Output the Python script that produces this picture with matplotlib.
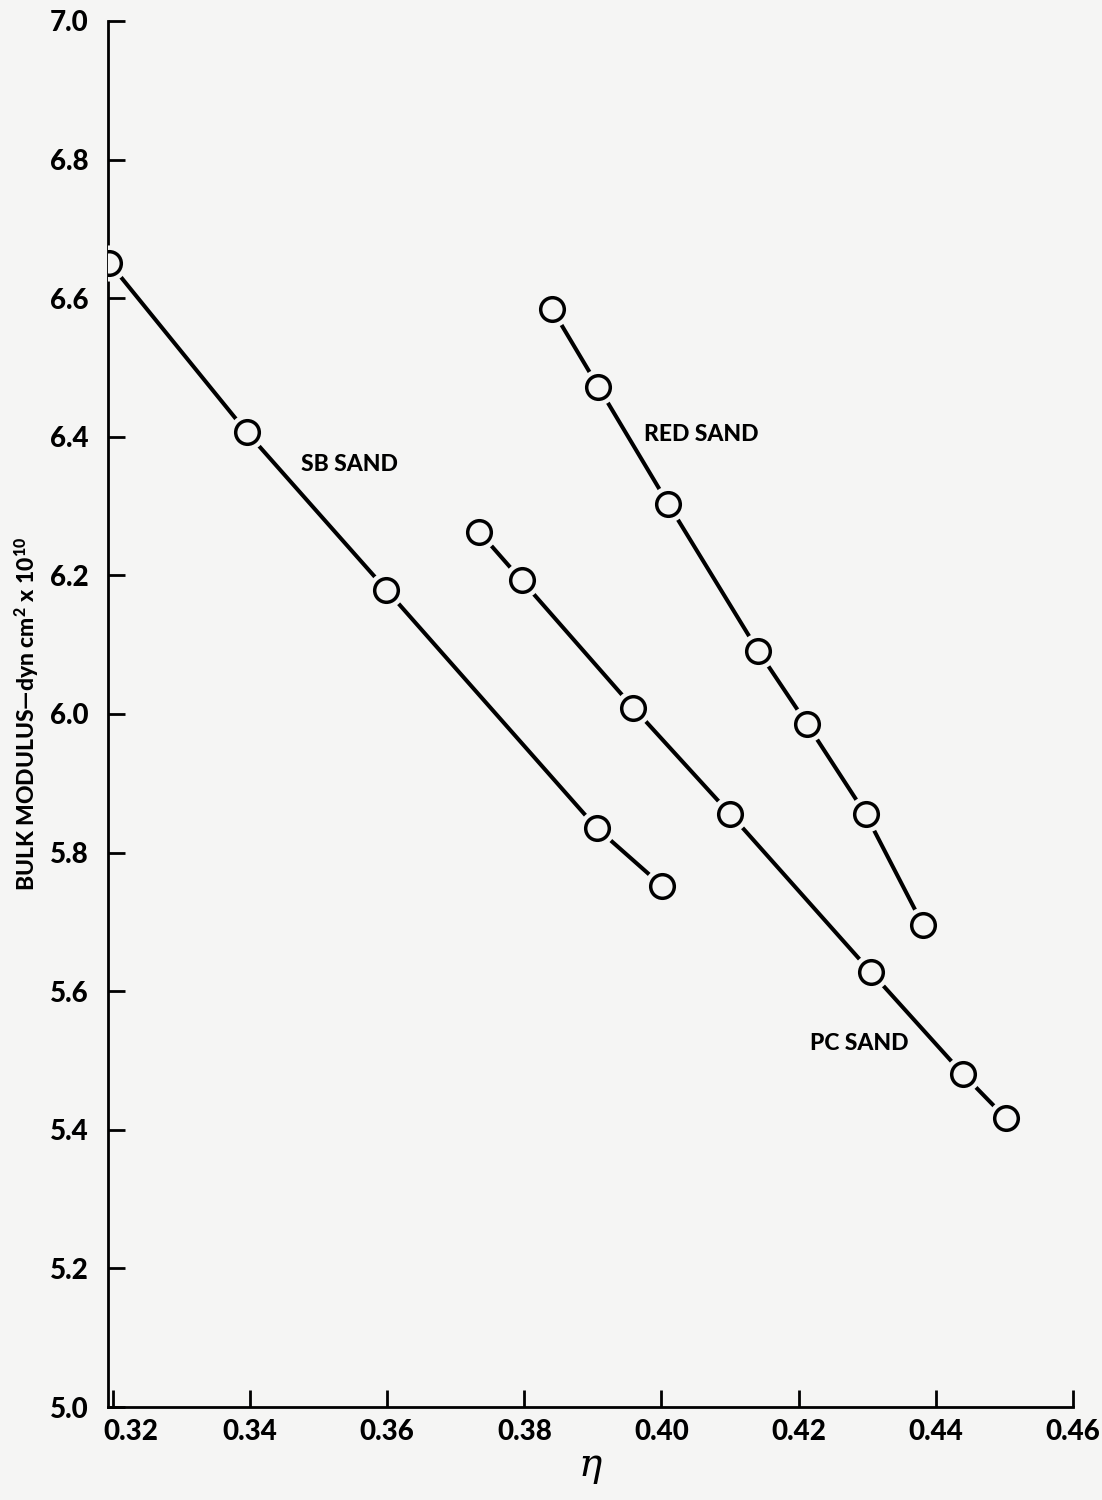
import matplotlib
matplotlib.use("Agg")
import matplotlib.pyplot as plt
import matplotlib.transforms as mtransforms

# Data
sb_eta = [0.3195, 0.3395, 0.3599, 0.3906, 0.4001]
sb_k = [6.651, 6.407, 6.179, 5.835, 5.752]

red_eta = [0.3840, 0.3908, 0.4010, 0.4141, 0.4212, 0.4298, 0.4381]
red_k = [6.585, 6.472, 6.303, 6.091, 5.986, 5.855, 5.696]

pc_eta = [0.3734, 0.3796, 0.3959, 0.4100, 0.4306, 0.4440, 0.4502]
pc_k = [6.263, 6.193, 6.009, 5.856, 5.627, 5.480, 5.417]

x_ticks = [0.32, 0.34, 0.36, 0.38, 0.40, 0.42, 0.44, 0.46]
x_tick_labels = ["0.32", "0.34", "0.36", "0.38", "0.40", "0.42", "0.44", "0.46"]
y_ticks = [5.0, 5.2, 5.4, 5.6, 5.8, 6.0, 6.2, 6.4, 6.6, 6.8, 7.0]
y_tick_labels = ["5.0", "5.2", "5.4", "5.6", "5.8", "6.0", "6.2", "6.4", "6.6", "6.8", "7.0"]

series_labels = ["SB SAND", "RED SAND", "PC SAND"]
label_pos = [(0.3474, 6.36), (0.3975, 6.404), (0.4216, 5.524)]

plt.rcParams["mathtext.fontset"] = "custom"
plt.rcParams["mathtext.rm"] = "Lato:black"
plt.rcParams["mathtext.bf"] = "Lato:black"
plt.rcParams["mathtext.it"] = "DejaVu Serif:italic"
plt.rcParams["mathtext.default"] = "rm"

bg = "#f5f5f4"
fig = plt.figure(figsize=(11.02, 15), dpi=100, facecolor=bg)
ax = fig.add_axes([108 / 1102, 1 - 1407 / 1500, (1073 - 108) / 1102, (1407 - 21) / 1500])
ax.set_facecolor(bg)

for xs, ys in [(sb_eta, sb_k), (red_eta, red_k), (pc_eta, pc_k)]:
    ax.plot(xs, ys, color="black", lw=2.9, zorder=2, solid_capstyle="butt")
    ax.plot(xs, ys, ls="none", marker="o", ms=26, mfc=bg, mec=bg, mew=0, zorder=3)
    ax.plot(xs, ys, ls="none", marker="o", ms=17, mfc=bg, mec="black", mew=2.5, zorder=4)

font = "Lato"
for lab, (lx, ly) in zip(series_labels, label_pos):
    ax.text(lx, ly, lab, fontsize=16.5, fontweight="black", family=font,
            ha="left", va="center", color="black")

ax.set_xlim(0.3193, 0.46)
ax.set_ylim(5.0, 7.0)
ax.set_xticks(x_ticks)
ax.set_xticklabels(x_tick_labels)
ax.set_yticks(y_ticks)
ax.set_yticklabels(y_tick_labels)
ax.tick_params(axis="both", direction="in", length=12, width=2, color="black",
               labelsize=20)
ax.tick_params(axis="y", pad=14)
ax.tick_params(axis="x", pad=9)
for lbl in ax.get_xticklabels() + ax.get_yticklabels():
    lbl.set_fontweight("black")
    lbl.set_family(font)
first = ax.get_xticklabels()[0]
first.set_transform(first.get_transform() + mtransforms.ScaledTranslation(18 / 100, 0, fig.dpi_scale_trans))

for s in ["top", "right"]:
    ax.spines[s].set_visible(False)
for s in ["left", "bottom"]:
    ax.spines[s].set_linewidth(2)

ax.set_ylabel("BULK MODULUS\u2014dyn cm$^{2}$ x 10$^{10}$", fontsize=16.5,
              fontweight="black", family=font, labelpad=6)
ax.set_xlabel(r"$\mathit{\eta}$", fontsize=28, labelpad=2)

fig.savefig("out.png", dpi=100, facecolor=bg)
